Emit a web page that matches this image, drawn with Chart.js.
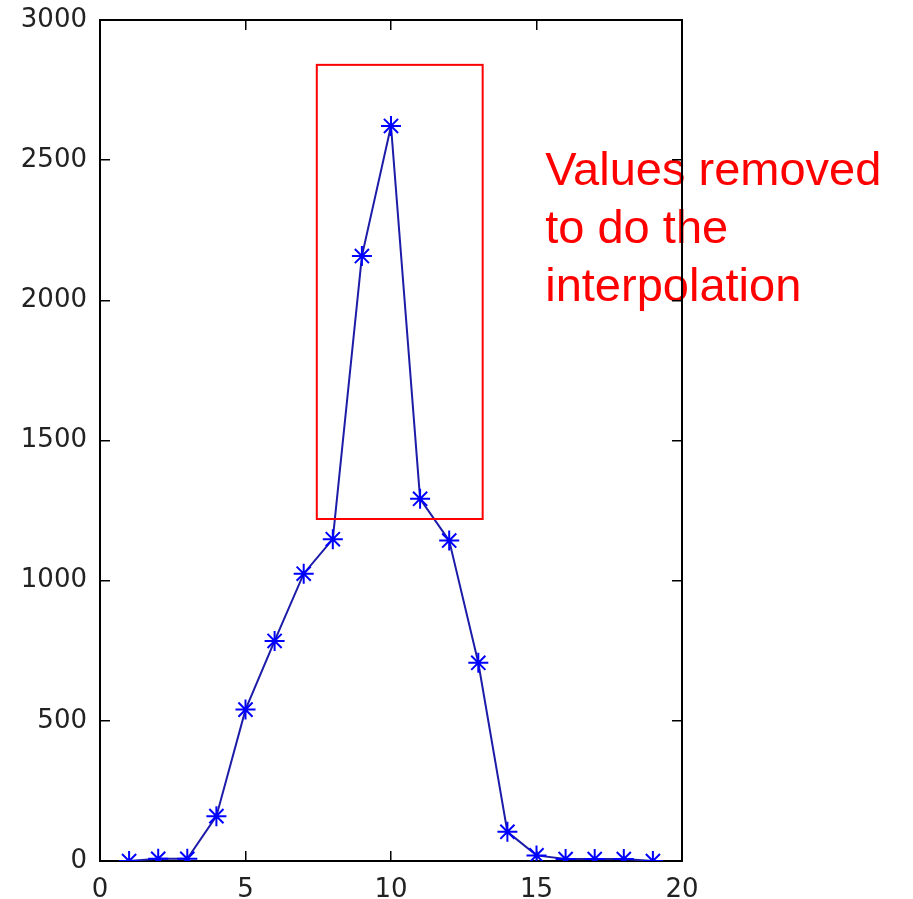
<!DOCTYPE html>
<html lang="en">
<head>
    <meta charset="UTF-8">
    <title>Interpolation</title>
    <style>
        html, body { margin: 0; padding: 0; background: #fff; }
        #wrap { width: 913px; height: 899px; }
    </style>
</head>
<body>
    <div id="wrap"><canvas id="chart" width="913" height="899"></canvas></div>

    <script src="https://cdn.jsdelivr.net/npm/chart.js"></script>
    <script>
        // data
        const xValues = [1, 2, 3, 4, 5, 6, 7, 8, 9, 10, 11, 12, 13, 14, 15, 16, 17, 18, 19];
        const yValues = [0, 8, 8, 160, 540, 785, 1025, 1148, 2158, 2622, 1292, 1143, 707, 104, 20, 7, 7, 7, 0];
        const xTicks = [0, 5, 10, 15, 20];
        const yTicks = [0, 500, 1000, 1500, 2000, 2500, 3000];

        // red box around the removed values (data units)
        const boxX = [7.45, 13.15];
        const boxY = [1220, 2840];
        const noteLines = ['Values removed', 'to do the', 'interpolation'];

        const tickFont = { family: 'DejaVu Sans', size: 26 };

        const annotate = {
            id: 'annotate',
            beforeDraw(chart) {
                const ctx = chart.ctx;
                ctx.save();
                ctx.fillStyle = '#fff';
                ctx.fillRect(0, 0, chart.width, chart.height);
                // note text sits under the frame, like the original
                const x = chart.scales.x.getPixelForValue(15.3);
                const y0 = chart.scales.y.getPixelForValue(2412);
                const step = chart.scales.y.getPixelForValue(2205) - y0;
                ctx.fillStyle = '#ff0000';
                ctx.font = '47px "Liberation Sans", Arial, sans-serif';
                ctx.textBaseline = 'alphabetic';
                noteLines.forEach((t, i) => ctx.fillText(t, x, y0 + i * step));
                ctx.restore();
            },
            afterDatasetsDraw(chart) {
                const ctx = chart.ctx;
                const sx = chart.scales.x, sy = chart.scales.y;
                const l = sx.getPixelForValue(boxX[0]), r = sx.getPixelForValue(boxX[1]);
                const t = sy.getPixelForValue(boxY[1]), b = sy.getPixelForValue(boxY[0]);
                ctx.save();
                ctx.strokeStyle = '#ff0000';
                ctx.lineWidth = 2;
                ctx.strokeRect(l, t, r - l, b - t);
                ctx.restore();
            }
        };

        const frameGrid = { drawOnChartArea: false, drawTicks: true, tickLength: -10, color: '#000', lineWidth: 1.5 };
        const frameBorder = { display: true, color: '#000', width: 2 };
        const plain = v => String(v);
        // fixed box sizes, no extra padding from label overhang
        const fixSize = (w, h) => s => {
            if (w !== null) s.width = w;
            if (h !== null) s.height = h;
            s.paddingTop = s.paddingBottom = s.paddingLeft = s.paddingRight = 0;
        };

        new Chart(document.getElementById('chart'), {
            type: 'line',
            data: {
                datasets: [{
                    data: xValues.map((x, i) => ({ x: x, y: yValues[i] })),
                    borderColor: '#1c1ca8',
                    borderWidth: 2,
                    pointStyle: 'star',
                    pointRadius: 10,
                    pointBorderWidth: 2,
                    pointBorderColor: '#0000ff',
                    pointBackgroundColor: '#0000ff',
                    tension: 0,
                    fill: false
                }]
            },
            options: {
                responsive: false,
                animation: false,
                layout: { padding: 0, autoPadding: false },
                plugins: { legend: { display: false }, tooltip: { enabled: false } },
                scales: {
                    x: {
                        type: 'linear', position: 'bottom', min: 0, max: 20,
                        afterBuildTicks: s => { s.ticks = xTicks.map(v => ({ value: v })); },
                        ticks: { font: tickFont, color: '#222', padding: 24, maxRotation: 0, callback: plain },
                        grid: frameGrid, border: frameBorder,
                        afterFit: fixSize(null, 38)
                    },
                    x2: {
                        type: 'linear', position: 'top', min: 0, max: 20,
                        afterBuildTicks: s => { s.ticks = xTicks.map(v => ({ value: v })); },
                        ticks: { display: false },
                        grid: frameGrid, border: frameBorder,
                        afterFit: fixSize(null, 20)
                    },
                    y: {
                        type: 'linear', position: 'left', min: 0, max: 3000,
                        afterBuildTicks: s => { s.ticks = yTicks.map(v => ({ value: v })); },
                        ticks: { font: tickFont, color: '#222', padding: 23, callback: plain },
                        grid: frameGrid, border: frameBorder,
                        afterFit: fixSize(100, null)
                    },
                    y2: {
                        type: 'linear', position: 'right', min: 0, max: 3000,
                        afterBuildTicks: s => { s.ticks = yTicks.map(v => ({ value: v })); },
                        ticks: { display: false },
                        grid: frameGrid, border: frameBorder,
                        afterFit: fixSize(231, null)
                    }
                }
            },
            plugins: [annotate]
        });
    </script>
</body>
</html>
